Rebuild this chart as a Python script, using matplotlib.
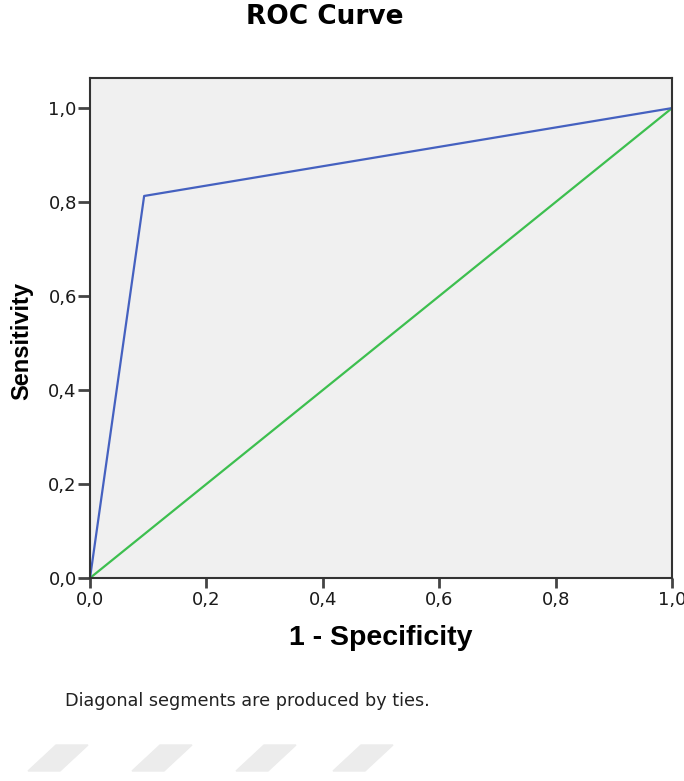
import matplotlib.pyplot as plt
from matplotlib.patches import Polygon

plt.rcParams['font.family'] = ['Liberation Sans', 'DejaVu Sans']

# ROC data
fpr = [0.0, 0.093, 1.0]
tpr = [0.0, 0.813, 1.0]
ref = [0.0, 1.0]
ticks = [0.0, 0.2, 0.4, 0.6, 0.8, 1.0]
tick_labels = ['0,0', '0,2', '0,4', '0,6', '0,8', '1,0']

fig = plt.figure(figsize=(6.84, 7.81), dpi=100)
ax = fig.add_axes([0.1316, 0.2599, 0.8509, 0.6402])
ax.set_facecolor('#f0f0f0')

ax.plot(ref, ref, color='#3dbf4f', lw=1.6)
ax.plot(fpr, tpr, color='#4561c0', lw=1.6)

ax.set_xlim(0, 1.0)
ax.set_ylim(0, 1.064)
ax.set_xticks(ticks)
ax.set_xticklabels(tick_labels, family='DejaVu Sans')
ax.set_yticks(ticks)
ax.set_yticklabels(tick_labels, family='DejaVu Sans')
ax.tick_params(width=2, color='#444444', labelsize=13, labelcolor='#1a1a1a')
ax.tick_params(axis='x', length=7, pad=2)
ax.tick_params(axis='y', length=9, pad=0.5)
for s in ax.spines.values():
    s.set_linewidth(1.5)
    s.set_color('#333333')

ax.set_xlabel('1 - Specificity', fontsize=20.5, fontweight='bold', va='center')
ax.xaxis.set_label_coords(0.5, -0.12)
ax.set_ylabel('Sensitivity', fontsize=17, fontweight='bold', va='center')
ax.yaxis.set_label_coords(-0.118, 0.474)

fig.text(0.475, 0.978, 'ROC Curve', ha='center', va='center', fontsize=19,
         fontweight='bold', family='DejaVu Sans')
fig.text(0.095, 0.103, 'Diagonal segments are produced by ties.', ha='left', va='center',
         fontsize=12.7, color='#222222', family='DejaVu Sans')

# faint grey stripes at the bottom
for x0 in [28, 132, 236, 333]:
    pts = [(x0, 771), (x0 + 28, 745), (x0 + 60, 745), (x0 + 32, 771)]
    pts = [(x / 684, 1 - y / 781) for x, y in pts]
    fig.patches.append(Polygon(pts, closed=True, transform=fig.transFigure,
                               color='#ececec', zorder=0))

fig.savefig('out.png', dpi=100)
